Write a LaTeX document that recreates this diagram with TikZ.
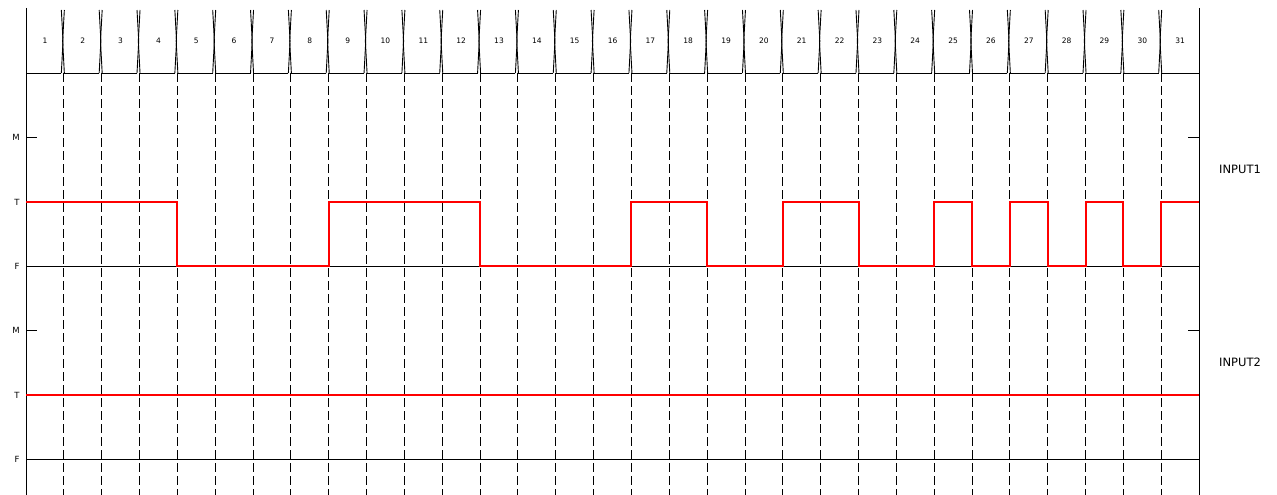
\documentclass[tikz,border=0pt]{standalone}
\usepackage{fontspec}
\setmainfont{DejaVu Sans}
\begin{document}
\begin{tikzpicture}[x=1pt, y=-1pt,
    axis/.style={black, line width=0.9pt},
    wave/.style={red, line width=2pt},
    tick/.style={black, line width=0.9pt, dash pattern=on 9pt off 4pt},
    num/.style={font=\fontsize{7.5}{8}\selectfont},
    lvl/.style={font=\fontsize{8.5}{9}\selectfont},
    sig/.style={font=\fontsize{11.5}{13}\selectfont}]
        \useasboundingbox (0,0) rectangle (1277,495);

        % cycle header
        \foreach \i in {1,...,31} {
            \pgfmathsetmacro\xl{26+37.84*(\i-1)}
            \pgfmathsetmacro\xs{\i==1 ? 26 : \xl+0.5}
            \pgfmathsetmacro\xe{\i==31 ? 1199 : \xl+37.84-2.5}
            \draw[axis] (\xs,73) -- (\xe,73);
            \node[num] (c\i) at (\xl+18.92,41) {\i};
        }
        \foreach \i in {1,...,30} {
            \pgfmathsetmacro\xb{26+37.84*\i}
            \draw[axis] (\xb-2.5,10) -- (\xb-0.8,41) -- (\xb-2.5,73);
            \draw[axis] (\xb+0.5,10) -- (\xb-1.2,41) -- (\xb+0.5,73);
            \draw[tick] (\xb,73) -- (\xb,495);
        }

        % axes
        \draw[axis] (26,8) -- (26,495);
        \draw[axis] (1199,8) -- (1199,495);

        % INPUT1
        \node[lvl] (m1) at (16,137) {M};
        \node[lvl] (t1) at (17,202) {T};
        \node[lvl] (f1) at (17,266) {F};
        \draw[axis] (26,137) -- (37,137);
        \draw[axis] (1188,137) -- (1199,137);
        \draw[axis] (26,266) -- (1199,266);
        \draw[wave] (26,202) -- (177.4,202) -- (177.4,266) -- (328.7,266) -- (328.7,202)
            -- (480.1,202) -- (480.1,266) -- (631.4,266) -- (631.4,202) -- (707.1,202)
            -- (707.1,266) -- (782.8,266) -- (782.8,202) -- (858.5,202) -- (858.5,266)
            -- (934.2,266) -- (934.2,202) -- (972,202) -- (972,266) -- (1009.8,266)
            -- (1009.8,202) -- (1047.7,202) -- (1047.7,266) -- (1085.5,266) -- (1085.5,202)
            -- (1123.4,202) -- (1123.4,266) -- (1161.2,266) -- (1161.2,202) -- (1199,202);
        \node[sig] (in1) at (1240,169) {INPUT1};

        % INPUT2
        \node[lvl] (m2) at (16,330) {M};
        \node[lvl] (t2) at (17,395) {T};
        \node[lvl] (f2) at (17,459) {F};
        \draw[axis] (26,330) -- (37,330);
        \draw[axis] (1188,330) -- (1199,330);
        \draw[axis] (26,459) -- (1199,459);
        \draw[wave] (26,395) -- (1199,395);
        \node[sig] (in2) at (1240,362) {INPUT2};
\end{tikzpicture}
\end{document}
